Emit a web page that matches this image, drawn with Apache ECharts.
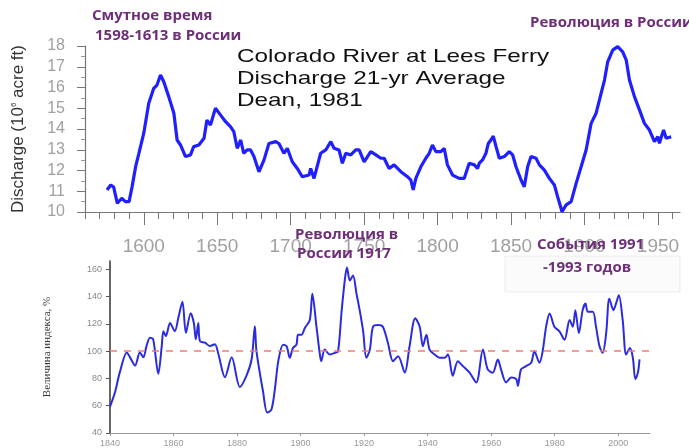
<!DOCTYPE html>
<html><head><meta charset="utf-8">
<script src="https://cdn.jsdelivr.net/npm/echarts@6/dist/echarts.min.js"></script>
<style>html,body{margin:0;padding:0;background:#fff}#c{width:689px;height:448px}</style>
</head><body><div id="c"></div>
<script>
// Top chart: Colorado River at Lees Ferry, 21-yr average discharge (10^6 acre ft)
const topYears = [1575,1577.5,1579.5,1582,1585,1587.5,1590,1592,1594.5,1596.6,1600,1603.4,1606.8,1609,1611.4,1613.6,1617,1620.5,1622.7,1625,1628.4,1631.8,1634,1637.5,1641,1643,1645.4,1648.8,1652.3,1655.7,1659,1661.3,1663.6,1666,1668,1670.4,1672.7,1675,1678.4,1681.8,1685.2,1689.8,1692,1695.4,1697.7,1701.1,1704.5,1707.9,1712.5,1713.6,1715.9,1720.4,1723.9,1727.3,1729.5,1732.9,1735.2,1737.5,1740.9,1744.3,1746.6,1750,1754.5,1758,1761.3,1763.6,1767,1770.4,1775,1779.5,1781.8,1783.4,1785.2,1788.6,1792,1794.3,1796.5,1798.8,1802.2,1804.5,1806.7,1810.2,1814.7,1818.1,1821.5,1825,1827.2,1828.4,1830.6,1832.9,1834.5,1836.3,1837.9,1839.8,1842,1845.4,1848.8,1851.1,1853.4,1856.8,1859,1861.3,1863.6,1867,1869.3,1872.7,1876.1,1879.5,1881.7,1884.7,1887.5,1890.9,1894.3,1897.7,1901.1,1904.5,1907.9,1911.3,1913.6,1915.8,1919.2,1922.6,1926,1928.4,1930.6,1934,1937.4,1940.8,1944.2,1947.6,1949.9,1951,1953.8,1955.6,1959];
const topValues = [11.06,11.3,11.2,10.42,10.66,10.5,10.5,11.2,12.2,12.8,13.8,15.24,15.96,16.12,16.6,16.28,15.56,14.76,13.47,13.23,12.67,12.75,13.15,13.23,13.55,14.43,14.19,15.0,14.67,14.35,14.11,13.87,13.07,13.47,12.83,12.99,12.99,12.67,11.94,12.5,13.3,13.39,13.3,12.83,13.07,12.42,12.1,11.7,11.78,12.1,11.62,12.83,12.99,13.39,13.07,12.99,12.35,12.83,12.75,12.99,12.99,12.42,12.91,12.75,12.59,12.59,12.1,12.27,11.94,11.7,11.54,11.06,11.62,12.18,12.59,12.83,13.23,12.91,12.91,13.07,12.27,11.78,11.62,11.62,12.35,12.27,12.1,12.35,12.51,12.83,13.3,13.47,13.66,13.15,12.59,12.67,12.91,12.75,12.18,11.54,11.22,12.18,12.67,12.59,12.27,12.02,11.62,11.3,10.74,10.01,10.34,10.5,11.38,12.18,12.99,14.27,14.76,15.72,16.36,17.24,17.8,17.97,17.72,17.32,16.36,15.56,14.92,14.27,13.95,13.39,13.63,13.31,13.95,13.55,13.63];
const topYTicks = [10,11,12,13,14,15,16,17,18];
const topXMinorTicks = [1560,1570,1580,1590,1600,1610,1620,1630,1640,1650,1660,1670,1680,1690,1700,1710,1720,1730,1740,1750,1760,1770,1780,1790,1800,1810,1820,1830,1840,1850,1860,1870,1880,1890,1900,1910,1920,1930,1940,1950,1960];
const topXLabels = [1600,1650,1700,1750,1800,1850,1900,1950];

// Bottom chart: index value, %
const botYears = [1840,1841.6,1843.1,1845.3,1846.3,1847.9,1849.4,1850.5,1851.5,1852.6,1853.6,1855.2,1856.3,1856.8,1857.6,1858.9,1860.4,1861.5,1862.8,1863.9,1865.4,1866.4,1867,1867.8,1868.3,1869.9,1871.4,1873,1874,1876.2,1878.3,1880.9,1883,1884.6,1885.6,1886.1,1888.2,1889.5,1890.8,1891.9,1893,1894.5,1895.6,1896.6,1897.6,1898.7,1899.2,1900.3,1901.3,1902.9,1903.7,1905,1906,1906.5,1907.6,1909.2,1910.8,1911.8,1912.9,1913.9,1914.6,1915.5,1916.5,1917.6,1918.6,1919.7,1920.7,1921.8,1922.8,1924.4,1925.9,1927.5,1929.1,1930.7,1932.8,1934.3,1936.1,1937.5,1938.5,1939.6,1940.6,1942.2,1943.8,1945.3,1946.4,1947.9,1949.5,1951.1,1953.2,1955.3,1957.4,1958.9,1960.5,1962.1,1963.1,1964.7,1966.3,1967.9,1968.4,1969.4,1971,1972.6,1973.6,1975.2,1976.2,1977.3,1978.4,1979.9,1981.5,1983.1,1984.7,1985.7,1986.5,1987.6,1988.8,1989.7,1990.4,1992,1993,1994.1,1995.1,1996.2,1997.2,1998.5,1999.3,2000.2,2001.4,2002.5,2003.7,2004.6,2005.4,2006.2,2006.7];
const botValues = [59.3,70.1,84.6,99,95.4,89.4,99,95.4,103.8,109.8,108.6,83.4,103.8,114.6,111,120.6,114.6,124.2,136.2,113.4,127.8,120.6,108.6,120.6,107.4,106.2,103.8,105,99,80.9,95.4,73.7,82.2,94.2,118.2,100.2,70.1,55,57,72,93,104.7,103.6,95.1,102.3,104.7,112,111.9,116.8,122.8,142,117.9,98.7,92.6,101.1,97.5,98.7,99.9,128.8,151.7,161.3,151.7,155.3,142.1,130,114.4,95.1,101.1,117.9,119.2,117.9,105.9,92.6,96.2,84.2,103.5,124,117.9,103.5,111.9,101.1,97.5,95.1,95.1,97.5,81.9,92.6,89,84.2,77,101.1,86.6,84.2,93.9,86.6,77,80.6,79.4,74.5,86.6,89,91.5,99.9,91.5,99.9,117.9,127.6,117.9,114.4,108.3,122.8,117.9,130,113.1,130,134.8,128.8,128.8,117.9,103.5,98.7,113.1,138.4,130,134.8,140.9,122.8,97.5,102.3,95.1,79.4,84.2,93.9];
const botYTicks = [40,60,80,100,120,140,160];
const botXLabels = [1840,1860,1880,1900,1920,1940,1960,1980,2000];
const baseline = 100;

const topData = topYears.map((y,i)=>[y, topValues[i]]);
const botData = botYears.map((y,i)=>[y, botValues[i]]);
const plain = v => String(v);

const PURPLE = '#6e2f78';
const annFont = 'bold 15px "Open Sans"';
function ann(text, x, y){
  return {type:'text', left:x, top:y-10, z:50, style:{text:text, font:annFont, fill:PURPLE}};
}

const chart = echarts.init(document.getElementById('c'), null, {renderer:'canvas'});
chart.setOption({
  animation:false,
  backgroundColor:'#fff',
  grid:[
    {left:85, top:46, width:595, height:166},
    {left:110, top:261, width:540, height:174}
  ],
  xAxis:[
    {gridIndex:0, type:'value', min:1560, max:1965, position:'bottom',
     axisLine:{lineStyle:{color:'#777', width:1.2}},
     axisTick:{customValues:topXMinorTicks, length:7, lineStyle:{color:'#777'}},
     axisLabel:{show:false}, splitLine:{show:false}},
    {gridIndex:0, type:'value', min:1560, max:1965, position:'bottom',
     axisLine:{show:false},
     axisTick:{customValues:topXLabels, length:13, lineStyle:{color:'#777'}},
     axisLabel:{customValues:topXLabels, formatter:plain, fontSize:19, color:'#a0a0a0', margin:25, fontFamily:'Liberation Sans'},
     splitLine:{show:false}},
    {gridIndex:1, type:'value', min:1840, max:2010,
     axisLine:{lineStyle:{color:'#999', width:1}},
     axisTick:{customValues:botXLabels, length:3, lineStyle:{color:'#999'}},
     axisLabel:{customValues:botXLabels, formatter:plain, fontSize:9, color:'#999', margin:6, fontFamily:'Liberation Sans'},
     splitLine:{show:false}}
  ],
  yAxis:[
    {gridIndex:0, type:'value', min:10, max:18, interval:1,
     axisLine:{show:true, lineStyle:{color:'#777', width:1.2}},
     axisTick:{show:true, length:8, lineStyle:{color:'#777'}},
     minorTick:{show:true, splitNumber:2, length:4, lineStyle:{color:'#999'}},
     axisLabel:{formatter:plain, fontSize:16, color:'#a0a0a0', margin:20, fontFamily:'Liberation Sans'},
     splitLine:{show:false},
     name:'{a|Discharge (10}{s|6}{a| acre ft)}', nameLocation:'middle', nameRotate:90, nameGap:58,
     nameTextStyle:{rich:{a:{fontSize:17, color:'#333', fontFamily:'Liberation Sans'}, s:{fontSize:8, color:'#333', verticalAlign:'top', fontFamily:'Liberation Sans'}}}},
    {gridIndex:1, type:'value', min:40, max:166,
     axisLine:{show:true, lineStyle:{color:'#333', width:1.5}},
     axisTick:{show:true, customValues:botYTicks, length:4, lineStyle:{color:'#555'}},
     axisLabel:{customValues:botYTicks, formatter:plain, fontSize:9, color:'#888', margin:8, fontFamily:'Liberation Sans'},
     splitLine:{show:false},
     name:'Величина индекса, %', nameLocation:'middle', nameRotate:90, nameGap:57,
     nameTextStyle:{fontSize:11, color:'#333', fontFamily:'Liberation Serif'}}
  ],
  series:[
    {type:'line', xAxisIndex:0, yAxisIndex:0, data:topData, showSymbol:false, symbol:'none',
     lineStyle:{color:'#1f1fff', width:3.2}, z:3},
    {type:'line', xAxisIndex:2, yAxisIndex:1, data:botData, showSymbol:false, symbol:'none', smooth:0.3,
     lineStyle:{color:'#2b2be0', width:2}, z:3,
     markLine:{silent:true, symbol:'none', label:{show:false},
       lineStyle:{color:'#f07a7a', type:[7,7], width:1.6},
       data:[{yAxis:baseline}]}}
  ],
  graphic:[
    {type:'rect', shape:{x:505, y:256, width:175, height:36}, z:40,
     style:{fill:'rgba(238,238,238,0.22)', stroke:'rgba(210,210,210,0.35)', lineWidth:1}},
    {type:'text', left:237, top:47, z:45, scaleX:1.28, style:{text:'Colorado River at Lees Ferry', font:'19px "Liberation Sans"', fill:'#111'}},
    {type:'text', left:237, top:69, z:45, scaleX:1.28, style:{text:'Discharge 21-yr Average', font:'19px "Liberation Sans"', fill:'#111'}},
    {type:'text', left:237, top:91, z:45, scaleX:1.28, style:{text:'Dean, 1981', font:'19px "Liberation Sans"', fill:'#111'}},
    ann('Смутное время', 92, 18),
    ann('1598-1613 в России', 95, 38),
    ann('Революция в России', 530, 25),
    ann('Революция в', 295, 237),
    ann('России 1917', 297, 256),
    ann('События 1991', 537, 247),
    ann('-1993 годов', 543, 270)
  ]
});
</script></body></html>
